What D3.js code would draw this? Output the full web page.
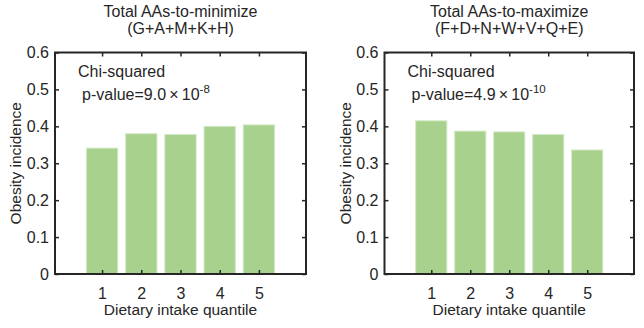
<!DOCTYPE html>
<html>
    <head>
        <meta charset="utf-8">
        <script src="https://cdn.jsdelivr.net/npm/d3@7"></script>
        <style>
            body { margin: 0; background: #fff; }
            text { font-family: "Liberation Sans", Arial, sans-serif; fill: #262626; }
        </style>
    </head>
    <body>
        <svg width="644" height="328"></svg>
        <script>

        var quantiles = [1, 2, 3, 4, 5];
        var minimizeValues = [0.341, 0.380, 0.378, 0.400, 0.404];
        var maximizeValues = [0.415, 0.387, 0.385, 0.378, 0.336];
        var yTicks = [0, 0.1, 0.2, 0.3, 0.4, 0.5, 0.6];
        var panels = [
            {title1: "Total AAs-to-minimize", title2: "(G+A+M+K+H)", values: minimizeValues,
             pMant: "9.0", pExp: "-8", left: 55, right: 306},
            {title1: "Total AAs-to-maximize", title2: "(F+D+N+W+V+Q+E)", values: maximizeValues,
             pMant: "4.9", pExp: "-10", left: 384.5, right: 634}
        ];

        var svg = d3.select("svg"),
            plotTop = 52.5, plotBottom = 274,
            ink = "#262626";

        panels.forEach(function(p) {
            var g = svg.append("g");

            var x = d3.scaleLinear().domain([-0.2, 6.2]).range([p.left, p.right]);
            var y = d3.scaleLinear().domain([0, 0.6]).range([plotBottom, plotTop]);
            var bw = x(0.8) - x(0);

            g.selectAll("rect.bar")
                .data(p.values)
              .enter().append("rect")
                .attr("class", "bar")
                .attr("x", function(d, i) { return x(quantiles[i]) - bw / 2; })
                .attr("y", function(d) { return y(d); })
                .attr("width", bw)
                .attr("height", function(d) { return y(0) - y(d); })
                .attr("fill", "#a9d18e")
                .attr("stroke", "#d5e9c8")
                .attr("stroke-width", 1);

            // axes with inward ticks, box on
            var fmt = function(d) { return d === 0 ? "0" : d.toFixed(1); };
            var axL = g.append("g").attr("transform", "translate(" + p.left + ",0)")
                .call(d3.axisLeft(y).tickValues(yTicks).tickFormat(fmt).tickSizeInner(-4).tickSizeOuter(0).tickPadding(6));
            var axR = g.append("g").attr("transform", "translate(" + p.right + ",0)")
                .call(d3.axisRight(y).tickValues(yTicks).tickFormat("").tickSizeInner(-4).tickSizeOuter(0));
            var axB = g.append("g").attr("transform", "translate(0," + plotBottom + ")")
                .call(d3.axisBottom(x).tickValues(quantiles).tickFormat(d3.format("d")).tickSizeInner(-4).tickSizeOuter(0).tickPadding(14));
            var axT = g.append("g").attr("transform", "translate(0," + plotTop + ")")
                .call(d3.axisTop(x).tickValues(quantiles).tickFormat("").tickSizeInner(-4).tickSizeOuter(0));

            [axL, axR, axB, axT].forEach(function(a) {
                a.select(".domain").remove();
                a.selectAll("line").attr("stroke", ink).attr("stroke-width", 1.5);
                a.selectAll("text").style("font-size", "16px").attr("fill", ink);
            });

            g.append("rect")
                .attr("x", p.left).attr("y", plotTop)
                .attr("width", p.right - p.left).attr("height", plotBottom - plotTop)
                .attr("fill", "none").attr("stroke", ink).attr("stroke-width", 2);

            var cx = (p.left + p.right) / 2;
            g.append("text").attr("x", cx).attr("y", 17).attr("text-anchor", "middle")
                .style("font-size", "16px").text(p.title1);
            g.append("text").attr("x", cx).attr("y", 34).attr("text-anchor", "middle")
                .style("font-size", "16px").text(p.title2);

            g.append("text").attr("x", cx).attr("y", 315).attr("text-anchor", "middle")
                .style("font-size", "15.5px").text("Dietary intake quantile");

            g.append("text")
                .attr("transform", "translate(" + (p.left - 34) + "," + ((plotTop + plotBottom) / 2) + ") rotate(-90)")
                .attr("text-anchor", "middle")
                .style("font-size", "15.5px").text("Obesity incidence");

            g.append("text").attr("x", p.left + 23).attr("y", 77)
                .style("font-size", "16px").text("Chi-squared");
            var pv = g.append("text").attr("x", p.left + 27).attr("y", 100)
                .style("font-size", "16px");
            pv.append("tspan").text("p-value=" + p.pMant + "\u2009\u00d7\u200910");
            pv.append("tspan").attr("dy", -7).style("font-size", "11.5px").text(p.pExp);
        });

        </script>
    </body>
</html>
